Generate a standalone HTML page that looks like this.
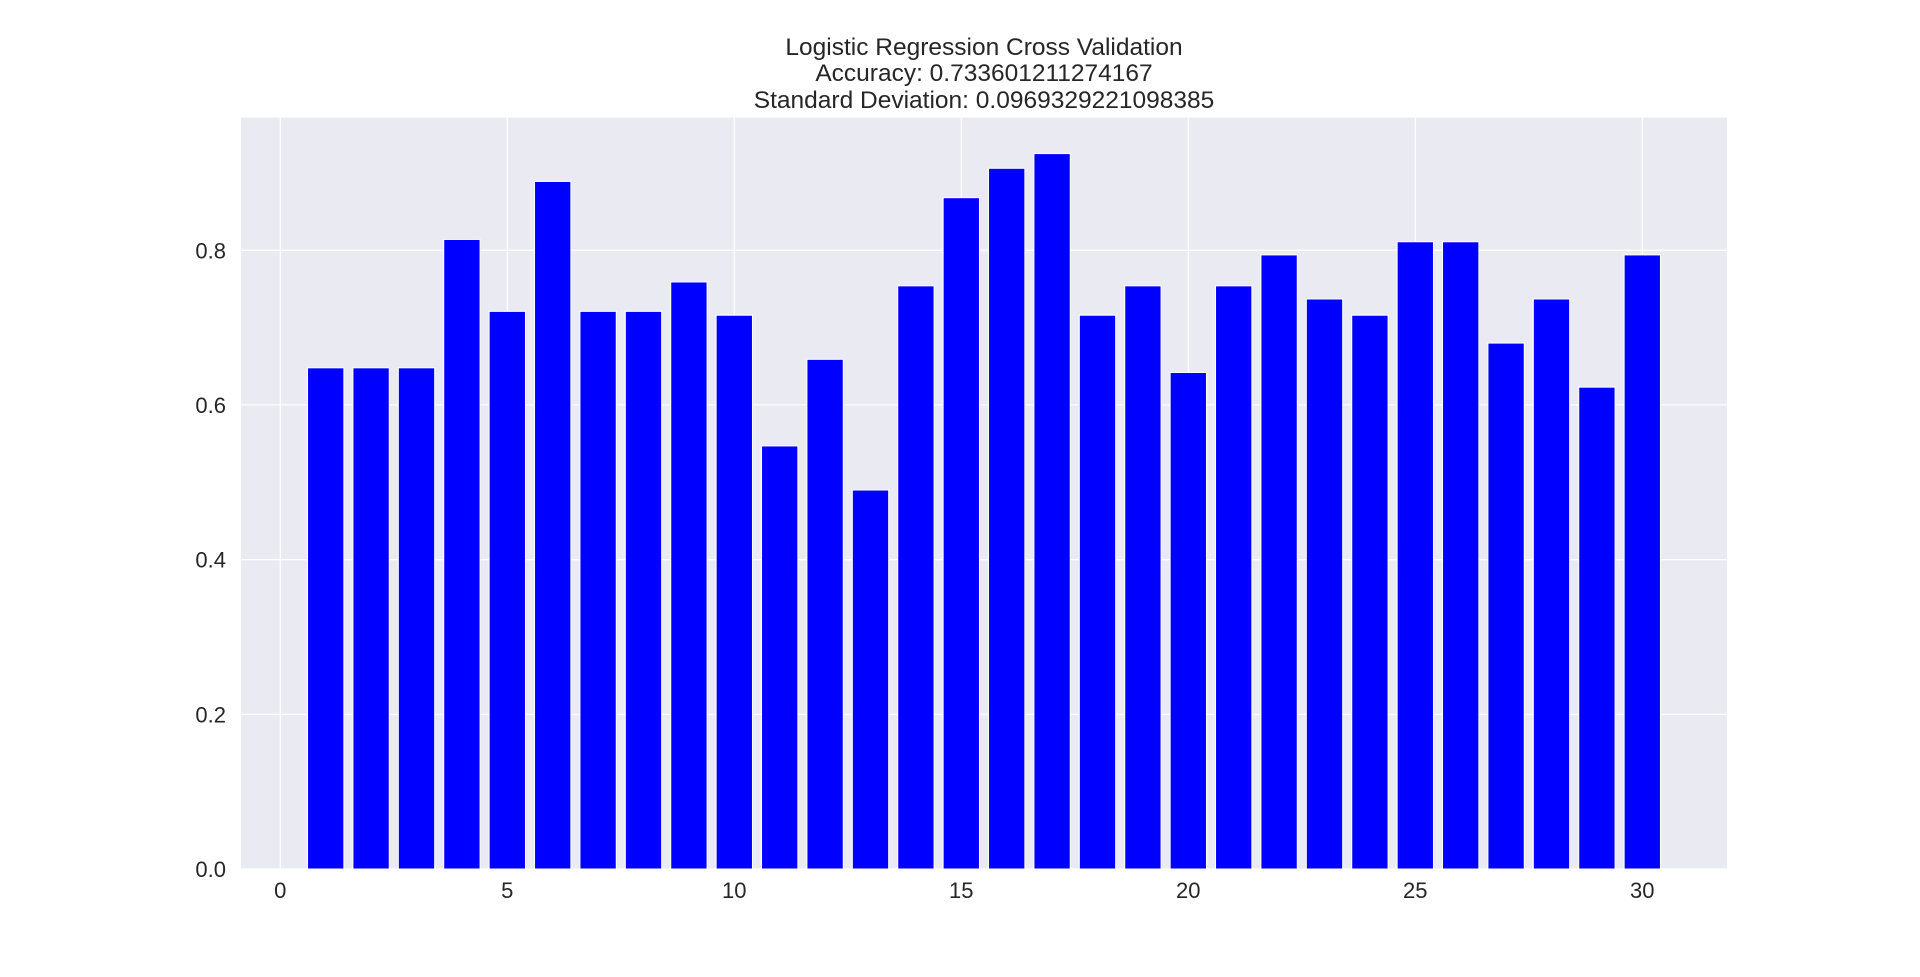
<!DOCTYPE html>
<html><head><meta charset="utf-8"><style>
html,body{margin:0;padding:0;background:#fff;}
svg{display:block;font-family:"Liberation Sans",Arial,sans-serif;}
</style></head><body>
<svg id="chart" width="1920" height="977">
<rect x="241" y="117.7" width="1486" height="751.3" fill="#eaeaf2"/>
<g id="grid"></g><g id="bars"></g><g id="ticks"></g>
<text x="984" y="55" text-anchor="middle" font-size="24.5" fill="#262626">Logistic Regression Cross Validation</text>
<text x="984" y="81" text-anchor="middle" font-size="24.5" fill="#262626">Accuracy: 0.733601211274167</text>
<text x="984" y="108" text-anchor="middle" font-size="24.5" fill="#262626">Standard Deviation: 0.0969329221098385</text>
</svg>
<script>
const folds = [1,2,3,4,5,6,7,8,9,10,11,12,13,14,15,16,17,18,19,20,21,22,23,24,25,26,27,28,29,30];
const scores = [0.648,0.648,0.648,0.814,0.721,0.889,0.721,0.721,0.759,0.716,0.547,0.659,0.490,0.754,0.868,0.906,0.925,0.716,0.754,0.642,0.754,0.794,0.737,0.716,0.811,0.811,0.680,0.737,0.623,0.794];
const xTicks = [0,5,10,15,20,25,30];
const yTicks = [0.0,0.2,0.4,0.6,0.8];
const NS="http://www.w3.org/2000/svg";
const L=241,R=1727,T=117.7,B=869;
const xs=v=>280.3+v*45.4;
const ys=v=>B-v*773.4;
function mk(tag,attrs,parent){const e=document.createElementNS(NS,tag);for(const k in attrs)e.setAttribute(k,attrs[k]);document.getElementById(parent).appendChild(e);return e;}
xTicks.forEach(t=>{
  const g=mk('line',{x1:xs(t),x2:xs(t),y1:T,y2:B,stroke:'#fff','stroke-width':1.2},'grid');
  
  
  const tx=mk('text',{x:xs(t),y:B+29,'text-anchor':'middle','font-size':22,fill:'#262626'},'ticks');
  tx.textContent=t;
  
  
});
yTicks.forEach(t=>{
  const g=mk('line',{x1:L,x2:R,y1:ys(t),y2:ys(t),stroke:'#fff','stroke-width':1.2},'grid');
  
  
  const tx=mk('text',{x:L-15,y:ys(t)+8,'text-anchor':'end','font-size':22,fill:'#262626'},'ticks');
  tx.textContent=t.toFixed(1);
  
  
});
folds.forEach((f,i)=>{
  const w=0.8*45.4;
  const b=mk('rect',{x:xs(f)-w/2,y:ys(scores[i]),width:w,height:B-ys(scores[i]),fill:'#0000ff',stroke:'#fff','stroke-width':1},'bars');
  
  
});
</script>
</body></html>
